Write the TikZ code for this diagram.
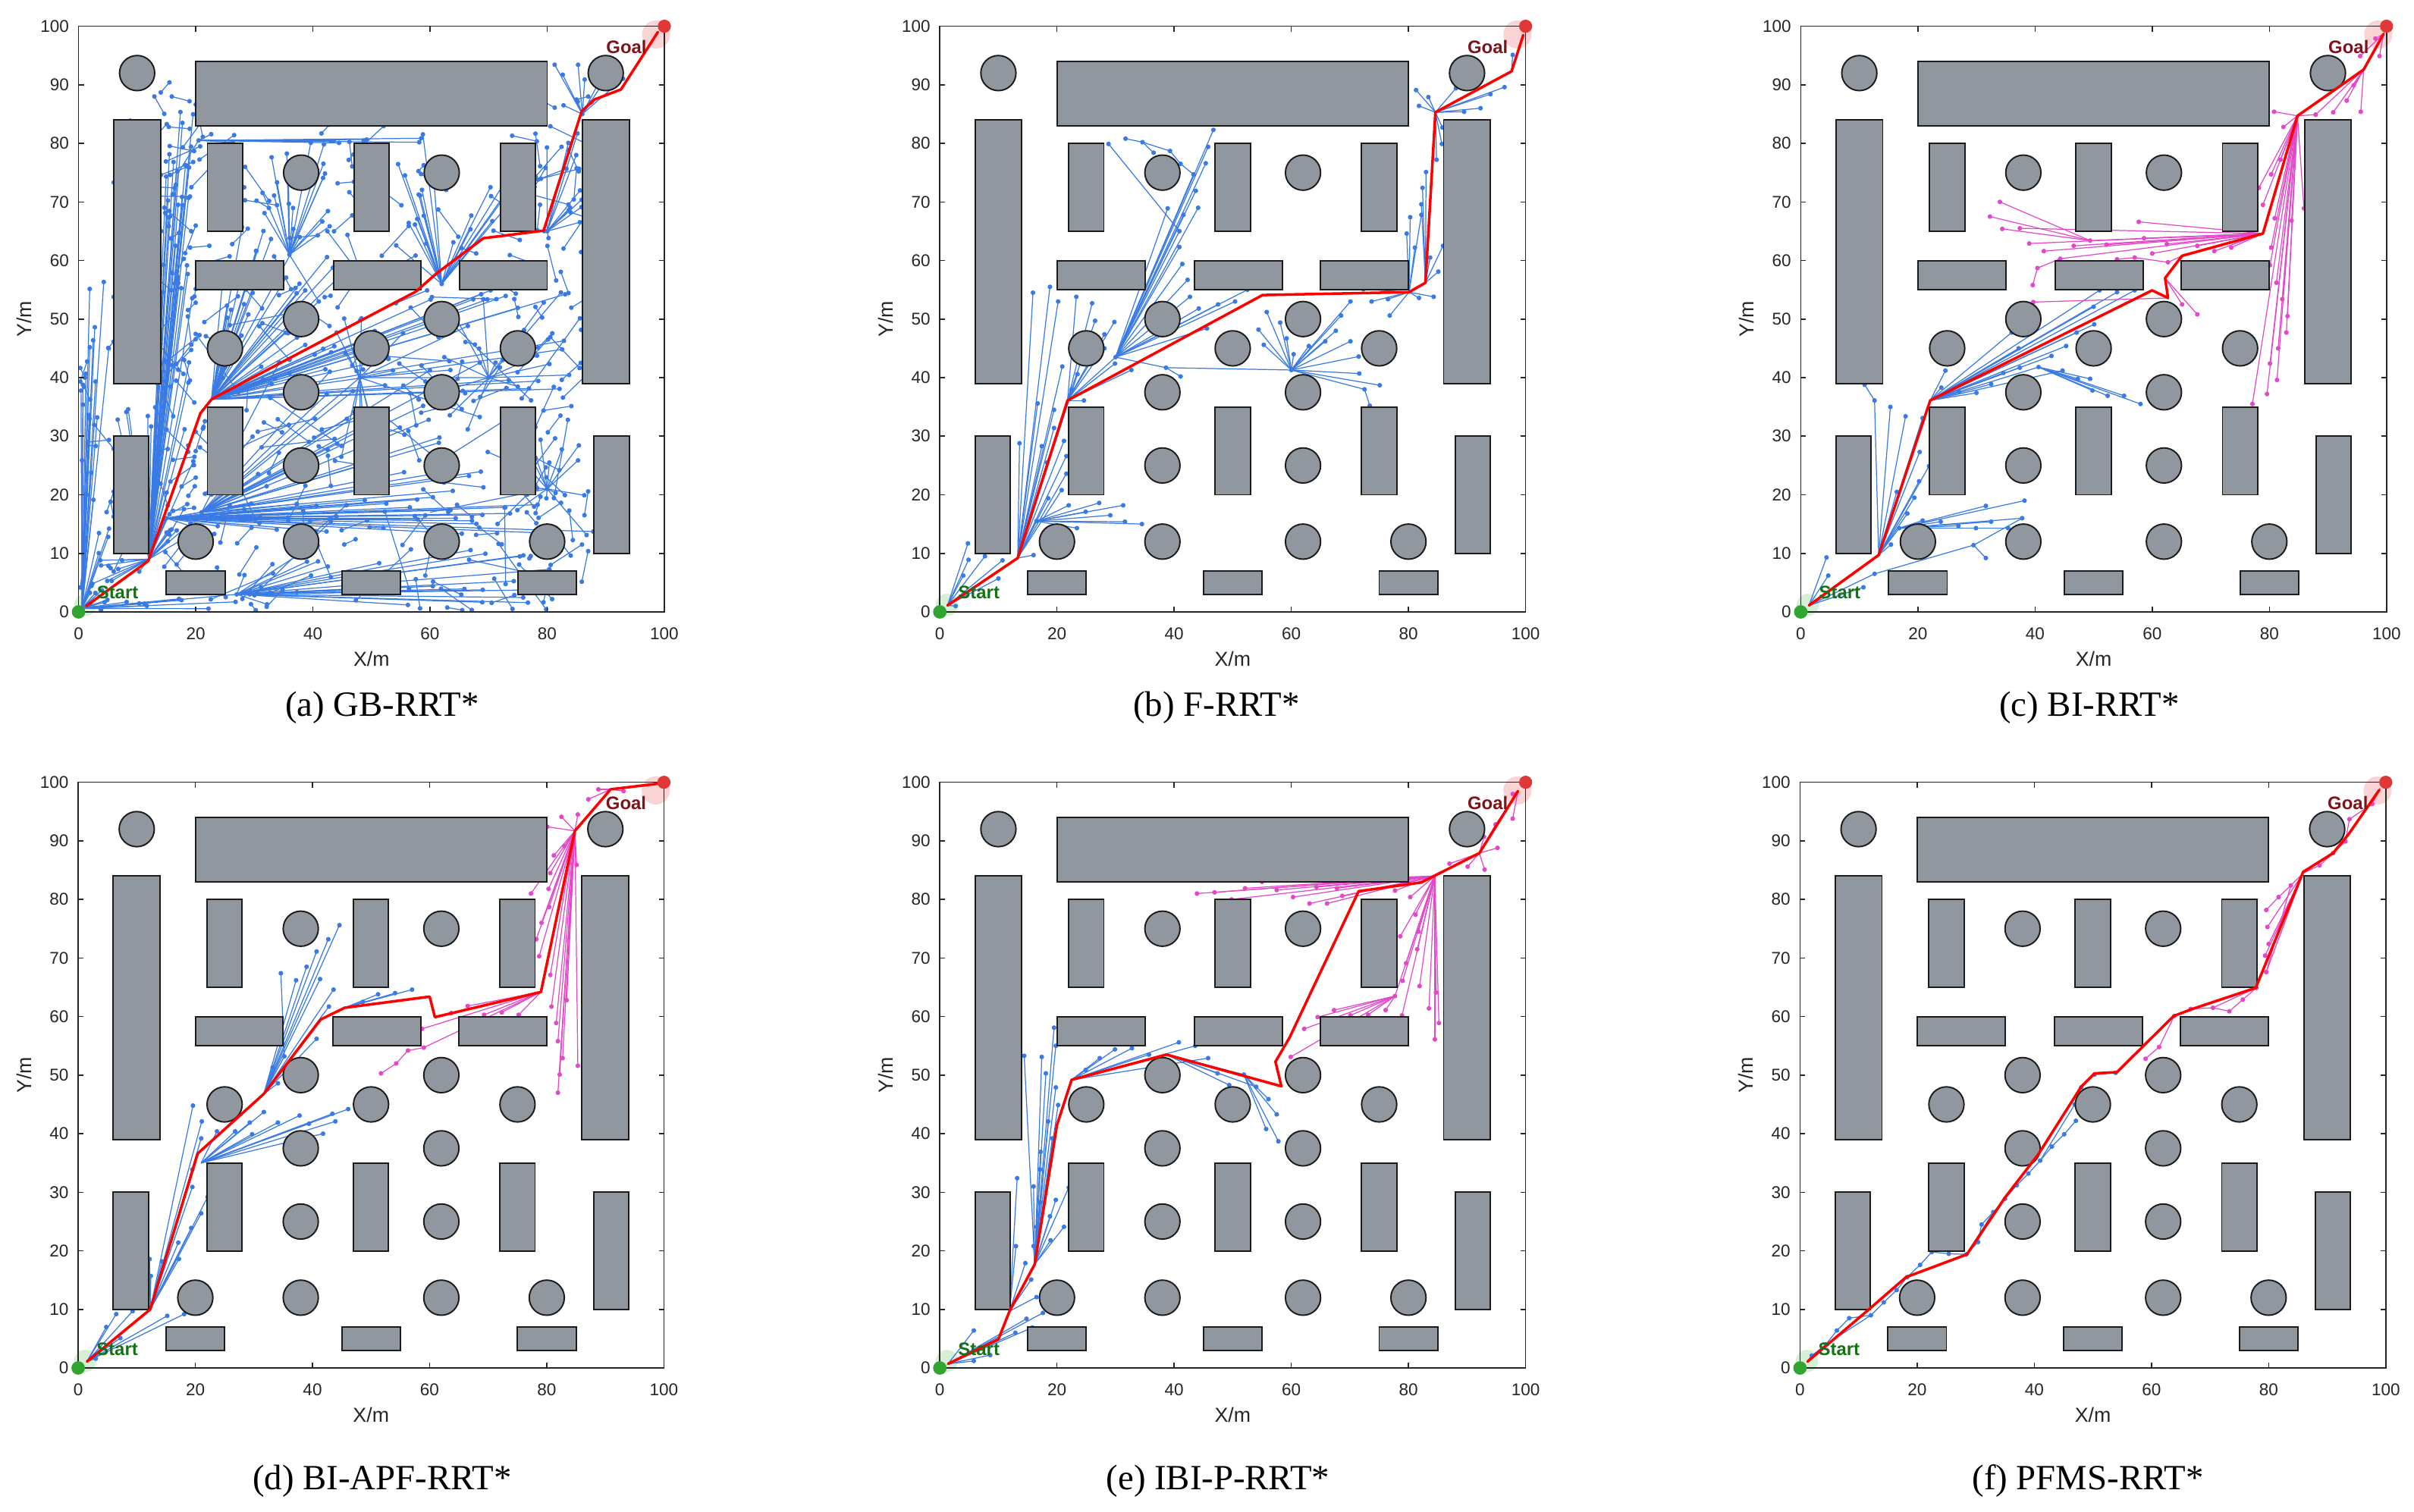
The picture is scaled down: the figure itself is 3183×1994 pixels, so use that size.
\documentclass[tikz,border=0pt]{standalone}
\usepackage{fontspec}
\setmainfont{Liberation Serif}
\newfontfamily\sansf{Liberation Sans}
\definecolor{obsfill}{RGB}{144,151,158}
\definecolor{obsedge}{RGB}{28,28,28}
\definecolor{tblue}{RGB}{58,122,228}
\definecolor{tmag}{RGB}{226,72,200}
\definecolor{axcol}{RGB}{38,38,38}
\definecolor{stdot}{RGB}{48,165,48}
\definecolor{stlab}{RGB}{22,112,22}
\definecolor{gldot}{RGB}{224,56,56}
\definecolor{gllab}{RGB}{128,18,24}
\definecolor{hgreen}{RGB}{214,240,214}
\definecolor{hred}{RGB}{250,212,212}
\tikzset{
 obs/.style={fill=obsfill, draw=obsedge, line width=0.55pt},
 bt/.style={draw=tblue, line width=0.35pt},
 mt/.style={draw=tmag, line width=0.35pt},
 rpath/.style={draw=red, line width=1.0pt, line join=round, line cap=round},
 axline/.style={draw=axcol, line width=0.45pt},
 ticklab/.style={font=\sansf\fontsize{6.4}{7}\selectfont, text=axcol, inner sep=0pt},
 axlab/.style={font=\sansf\fontsize{7.6}{9}\selectfont, text=axcol, inner sep=0pt},
 captext/.style={font=\fontsize{13.3}{16}\selectfont, inner sep=0pt},
 stlabel/.style={font=\sansf\bfseries\fontsize{6.8}{8}\selectfont, text=stlab, inner sep=0pt, anchor=base west},
 gllabel/.style={font=\sansf\bfseries\fontsize{6.8}{8}\selectfont, text=gllab, inner sep=0pt, anchor=base west},
 panel/.style={x=0.0772cm, y=0.0772cm}
}
\newcommand\dr{0.4}
\newcommand\fanB[2]{\foreach \p in {#2}{\draw[bt] #1 -- \p;}\foreach \p in {#2}{\fill[tblue] \p circle[radius=\dr];}}
\newcommand\fanM[2]{\foreach \p in {#2}{\draw[mt] #1 -- \p;}\foreach \p in {#2}{\fill[tmag] \p circle[radius=\dr];}}
\newcommand\dotsB[1]{\foreach \p in {#1}{\fill[tblue] \p circle[radius=\dr];}}
\newcommand\dotsM[1]{\foreach \p in {#1}{\fill[tmag] \p circle[radius=\dr];}}
\newcommand\rfanB[6]{\foreach \k in {1,...,#2}{\pgfmathsetmacro\rx{#3+rnd*(#4-#3)}\pgfmathsetmacro\ry{#5+rnd*(#6-#5)}\draw[bt] #1 -- (\rx,\ry); \fill[tblue] (\rx,\ry) circle[radius=\dr];}}
% random short segments: N, xmin, xmax, ymin, ymax, L
\newcommand\rsegB[6]{\foreach \k in {1,...,#1}{\pgfmathsetmacro\rx{#2+rnd*(#3-#2)}\pgfmathsetmacro\ry{#4+rnd*(#5-#4)}\pgfmathsetmacro\sx{max(#2,min(#3,\rx+(2*rnd-1)*#6))}\pgfmathsetmacro\sy{max(#4,min(#5,\ry+(2*rnd-1)*#6))}\draw[bt] (\rx,\ry) -- (\sx,\sy); \fill[tblue] (\rx,\ry) circle[radius=\dr]; \fill[tblue] (\sx,\sy) circle[radius=\dr];}}
\newcommand\drawobs{%
 \foreach \a/\b/\c/\d in {20/83/80/94, 6/39/14/84, 86/39/94/84, 22/65/28/80, 47/65/53/80, 72/65/78/80, 20/55/35/60, 43.5/55/58.5/60, 65/55/80/60, 22/20/28/35, 47/20/53/35, 72/20/78/35, 6/10/12/30, 88/10/94/30, 15/3/25/7, 45/3/55/7, 75/3/85/7}
  {\draw[obs] (\a,\b) rectangle (\c,\d);}
 \foreach \a/\b in {10/92, 90/92, 38/75, 62/75, 25/45, 38/50, 50/45, 62/50, 75/45, 38/37.5, 62/37.5, 38/25, 62/25, 20/12, 38/12, 62/12, 80/12}
  {\draw[obs] (\a,\b) circle[radius=3];}
}
\newcommand\halos{%
 \fill[hgreen] (1.2,1.2) circle[radius=1.9];
 \fill[hred] (98.6,98.6) circle[radius=2.4];
}
\newcommand\drawaxes{%
 \draw[axline] (0,0) rectangle (100,100);
 \foreach \v in {0,20,...,100}{
  \draw[axline] (\v,0) -- ++(0,0.9);
  \draw[axline] (\v,100) -- ++(0,-0.9);
  \node[ticklab, anchor=north] (xt\v) at (\v,-2.55) {\v};}
 \foreach \v in {0,10,...,100}{
  \draw[axline] (0,\v) -- ++(0.9,0);
  \draw[axline] (100,\v) -- ++(-0.9,0);
  \node[ticklab, anchor=east] (yt\v) at (-1.55,\v) {\v};}
 \node[axlab] (xl) at (50,-7.97) {X/m};
 \node[axlab, rotate=90] (yl) at (-9.26,50) {Y/m};
}
\newcommand\markers{%
 \fill[stdot] (0,0) circle[radius=1.15];
 \fill[gldot] (100,100) circle[radius=1.12];
 \node[stlabel] (stl) at (3.05,2.2) {Start};
 \node[gllabel] (gll) at (90,95.4) {Goal};
}
\begin{document}
\begin{tikzpicture}[x=0.01cm,y=-0.01cm]
\fill[white] (0,0) rectangle (3183,1994);
\useasboundingbox (0,0) rectangle (3183,1994);
\pgfmathsetseed{4242}
% ---------------- (a) GB-RRT*
\begin{scope}[shift={(1.035cm,-8.065cm)},panel]
\halos
\rfanB{(0.6,0.6)}{26}{0.3}{5.7}{3}{57}
\rfanB{(0.6,0.6)}{10}{3}{28}{0.3}{2.5}
\rfanB{(12,9)}{44}{14.4}{19.6}{12}{91}
\rfanB{(12,9)}{7}{6.5}{13.5}{31}{38}
\rfanB{(12,9)}{8}{2}{11}{2}{9.5}
\rfanB{(22.7,36.3)}{34}{24}{45}{38}{66}
\rfanB{(22.7,36.3)}{22}{40}{86}{38}{55}
\rfanB{(36,61)}{18}{29}{43}{63}{81}
\rfanB{(15,16)}{30}{20}{88}{13}{20}
\rfanB{(27,3)}{24}{28}{82}{0.5}{11}
\rfanB{(21,17)}{22}{28}{70}{20}{45}
\rfanB{(62,56)}{22}{54}{75}{62}{82}
\rfanB{(80,21)}{14}{74}{88}{13}{34}
\rfanB{(80,65)}{12}{79}{86}{62}{82}
\rfanB{(86,85)}{10}{80}{93}{85}{94}
\rfanB{(48,40)}{16}{40}{70}{25}{52}
\rfanB{(20.5,80.5)}{8}{20}{60}{80}{82.5}
\rfanB{(70,40)}{14}{60}{86}{30}{55}
\rsegB{150}{6}{87}{0.3}{88}{6}
\rsegB{40}{20}{87}{0.3}{56}{14}
\rsegB{30}{14}{20}{10}{91}{5}
\rsegB{25}{78}{87}{0.3}{88}{7}
\rsegB{12}{0.3}{6}{0.3}{56}{6}
\draw[bt] (12,9) -- (15,16) -- (21,17) -- (48,40) -- (70,40);
\draw[bt] (0.6,0.6) -- (27,3);
\draw[bt] (36,61) -- (41,53) -- (22.7,36.3);
\draw[bt] (80,21) -- (60,17);
\draw[bt] (20.5,80.5) -- (17,75);
\dotsB{(15,16),(21,17),(48,40),(70,40),(27,3),(36,61),(41,53),(80,21),(62,56),(80,65),(86,85),(20.5,80.5)}
\drawobs
\draw[rpath] (1.3,1) -- (11.9,8.7) -- (20.8,33.9) -- (22.7,36.3) -- (57.6,54.7) -- (61,57.7) -- (69.1,63.8) -- (79.4,65.1) -- (85.9,85.5) -- (88.1,87.5) -- (92.6,89.2) -- (98.9,99);
\drawaxes
\markers
\end{scope}
\node[captext] (capa) at (504,933) {(a) GB-RRT*};
% ---------------- (b) F-RRT*
\begin{scope}[shift={(12.385cm,-8.065cm)},panel]
\halos
\fanB{(1.3,1.1)}{(2.7,1),(4,6.2),(4.8,11.7),(4.9,8.9),(7.7,9.5),(10,5.7),(10.7,8.8)}
\fanB{(13.3,9.2)}{(13.6,28.8),(15.9,54.5),(18.8,55.5),(20.2,53),(16.7,35.6),(17.4,28.3),(18.3,25.5),(18.5,19.4),(19.5,31.4),(19.5,34.5),(20.9,41.9),(21.6,26.6),(21.6,23.6),(20.8,20.8),(21.2,29.2),(16,9.7),(16.5,15.5),(22.5,38),(23.5,40.6)}
\fanB{(16.5,15.5)}{(22,18.2),(24.9,17.1),(27.2,18.6),(29.1,16.5),(31.3,18.2),(31.6,15.4),(34.5,15),(23.4,14.3)}
\fanB{(21.8,36.1)}{(23.3,53.8),(26,52.7),(26.5,49.7),(28.1,47.4),(29.8,49.5),(29.9,42.4),(28.1,45),(32.7,41.3),(24.6,36.1),(30,43.5)}
\fanB{(30,43.5)}{(38.9,68.9),(40.9,65),(40.9,62.3),(41.4,59.4),(42.3,56.7),(42.7,53.8),(43.7,71.9),(44.1,69),(43.3,74.7),(45.4,76.6),(45.8,79.4),(46.7,82.3),(41.6,67.8),(45.6,48.4),(47.5,52.5),(50.4,53),(52.5,55),(44.2,51.8),(38.6,41.7)}
\draw[bt] (28.8,79.9) -- (40.9,65);
\draw[bt] (31.7,80.8) -- (34.6,80.2) -- (39.3,78.7) -- (41.1,76.5) -- (43.3,74.7);
\draw[bt] (36.5,78.4) -- (34.6,80.2);
\dotsB{(28.8,79.9),(31.7,80.8),(34.6,80.2),(39.3,78.7),(41.1,76.5),(36.5,78.4)}
\draw[bt] (38.6,41.7) -- (60,41.3);
\draw[bt] (41.1,40.2) -- (38.6,41.7);
\dotsB{(41.1,40.2),(60,41.3)}
\fanB{(60,41.3)}{(54.4,48.2),(55.3,45.6),(55.8,51.2),(58.1,49.4),(59.2,46.7),(60.4,44),(63,45.4),(65.8,46.2),(67.6,48),(68.5,50.6),(70.1,53),(70.1,46.2),(71.5,43.6),(71.6,40.7),(75.1,38.7),(72.5,38)}
\draw[bt] (72.5,38) -- (73.4,35.2);
\dotsB{(73.4,35.2)}
\fanB{(80.1,54.6)}{(73.7,53),(76.8,50.6),(76.5,53.4),(72.3,55.1),(81.8,53.6),(84.3,53.8),(79.7,64.6),(80.3,67.4),(81.1,62.2),(82.2,67.8)}
\fanB{(82.9,56.2)}{(85.9,62.5),(85.1,58.1),(83.7,60.5),(82.4,72.4),(82.2,69.6),(83,75.1)}
\fanB{(84.6,85.3)}{(81.3,89.1),(81.8,86.4),(83.4,87.9),(84.8,77.2),(85.7,79.9),(85.8,82.7),(88.1,89.4),(89.5,85.4),(92.3,86),(94,88.4),(96.4,89.6)}
\draw[bt] (97.6,92.3) -- (97.8,95.1);
\dotsB{(97.8,95.1)}
\drawobs
\draw[rpath] (1.3,1.1) -- (13.3,9.2) -- (21.8,36.1) -- (55.1,54.1) -- (80.1,54.6) -- (82.9,56.2) -- (84.6,85.3) -- (97.6,92.3) -- (99.6,98.5);
\drawaxes
\markers
\end{scope}
\node[captext] (capb) at (1604,933) {(b) F-RRT*};
% ---------------- (c) BI-RRT*
\begin{scope}[shift={(23.73cm,-8.065cm)},panel]
\halos
\fanB{(1.4,1.1)}{(4.4,9.3),(4.7,6.2),(10.7,4.2),(12.6,6.5)}
\fanB{(13.3,9.7)}{(12.6,36.1),(15.3,35),(17.9,33.4),(20.8,33.1),(20.3,27.3),(21.9,24.9),(20.2,22.3),(19.4,19.5),(18.2,16.8),(15.4,11.5),(16.4,20.5),(16.8,14.3)}
\draw[bt] (12.6,36.1) -- (10.9,38.8);
\dotsB{(10.9,38.8)}
\fanB{(16.8,14.3)}{(20.8,15.6),(23.9,15.4),(26.9,14.7),(29.9,14.3),(31.6,18.1),(32.5,15.4),(35.4,14.3),(37.8,16),(38.2,19)}
\draw[bt] (12.6,6.5) -- (29.5,11.4) -- (31.6,9.2);
\draw[bt] (29.5,11.4) -- (37.8,16);
\dotsB{(29.5,11.4),(31.6,9.2)}
\fanB{(22.1,36.1)}{(24,38.3),(24.7,41.2),(27,37.6),(30,37.4),(32.5,38.9),(34.6,40.8),(37.4,41.7),(36,47.7),(37.2,45),(40.6,41.8),(42.8,43.7),(44.7,41.2),(45.3,45.4),(47.1,47.7),(50.1,49.1),(50,52.1),(51,54.9),(54,54.6),(57,54.9)}
\fanB{(40.6,41.8)}{(47.3,39.8),(49.8,37.8),(49.4,39.8),(52.4,36.9),(55.2,36.9),(58,35.5)}
\fanM{(78.9,64.6)}{(49.4,63.4),(52.2,62.7),(57.7,66.6),(58.6,63.8),(60,61.2),(62.5,62.8),(67.7,62.5),(70.6,61.6),(73.5,62.2),(46.6,62.5),(44.3,60.3),(41.5,61.6),(39,62.9),(37.4,65.5)}
\fanM{(49.4,63.4)}{(34,70),(32.3,67.5),(34.4,65.4)}
\draw[mt] (44.3,60.3) -- (40.4,58.7) -- (39.6,55.8);
\draw[mt] (39.7,52.9) -- (62.7,53.6);
\draw[mt] (54,60.2) -- (57,60.5) -- (62.7,59.7) -- (65.1,60.8);
\draw[mt] (62.2,57) -- (65.1,52.5);
\draw[mt] (62.2,57) -- (67.7,50.8);
\dotsM{(40.4,58.7),(39.6,55.8),(39.7,52.9),(54,60.2),(57,60.5),(62.7,59.7),(65.1,52.5),(67.7,50.8)}
\fanM{(84.8,84.7)}{(78.2,72.4),(78.9,69.5),(80.3,74.7),(81.9,77.2),(82.4,82.8),(80.9,67.2),(80.3,62.2),(80.1,59.2),(81.2,56.2),(82.2,53.4),(83.1,50.5),(82.9,47.7),(81.5,45),(80.1,42.4),(81.3,39.6),(79.6,37.2),(77.1,35.5),(83.8,66.8),(85.9,68.9),(80.8,85.4),(87.9,84.9)}
\fanM{(96.1,92.6)}{(90.9,85.3),(93.2,87.3),(94.4,89.9),(95.6,85.4),(87.9,84.9)}
\fanM{(99.5,98.7)}{(95.5,94.9),(98.8,94.9),(98.1,97.9)}
\drawobs
\draw[rpath] (1.4,1.1) -- (13.3,9.7) -- (22.1,36.1) -- (60,54.9) -- (62.7,53.6) -- (62.2,57) -- (65.1,60.8) -- (78.9,64.6) -- (84.8,84.7) -- (96.1,92.6) -- (99.5,98.7);
\drawaxes
\markers
\end{scope}
\node[captext] (capc) at (2755,933) {(c) BI-RRT*};
% ---------------- (d) BI-APF-RRT*
\begin{scope}[shift={(1.03cm,-18.03cm)},panel]
\halos
\fanB{(1.5,1.1)}{(4.8,7),(6.5,9.2),(9.3,9.7),(7.2,5.1),(15.2,8.9),(18.1,9.2),(3,1.6)}
\fanB{(12.3,10)}{(12.4,15.7),(12.2,18.6),(14.3,18.2),(17.2,18.6),(17.1,21.4),(19.3,23.9),(21,26.4),(22.1,29.2),(19.5,30.9),(19.5,33.9),(19.6,44.8),(21.1,42.1),(21,39.2)}
\fanB{(21,35)}{(23.7,40.4),(26.8,40.4),(29.3,41.9),(31.7,43.7),(29.7,39.9),(34.1,41.9),(37.8,43.1),(39.4,41.7),(41.8,40),(43.4,43.4),(43.9,42.1),(46.1,44.2)}
\fanB{(31.7,46.8)}{(33.2,51.3),(34.1,48.6),(35.2,53.2),(37.2,66.2),(39,68.5),(40.7,71.1),(42.7,73.2),(44.6,75.6),(41.3,66.4),(43.6,64.6),(42.8,61.7),(40.7,56.2)}
\draw[bt] (35.2,53.2) -- (34.6,67.4);
\dotsB{(34.6,67.4)}
\fanB{(45.5,61.5)}{(48.6,62.5),(51.2,63.8),(54.1,64),(57,64.6)}
\fanM{(79,64.2)}{(75.2,60.3),(72.3,60.7),(69.3,60.3),(66.5,61.8),(63.7,60.6),(59,54.7),(58.7,57.9)}
\draw[mt] (59,54.7) -- (56.3,54.2) -- (54.3,52) -- (51.7,50.3);
\dotsM{(56.3,54.2),(54.3,52),(51.7,50.3)}
\fanM{(84.8,91.7)}{(80.8,61.7),(81.6,58.9),(81.9,55.8),(82.7,52.9),(82.2,50.1),(81.9,47),(83.4,62.8),(85.3,51.6),(80.6,67.1),(78.7,70.3),(78.2,73.2),(79.1,76),(80.4,78.7),(80.3,81.8),(77.3,81),(80.6,84.5),(81.2,87.5),(80.1,92.4),(82.5,94.1),(85.3,94.5),(85.1,85.9),(83,89.1)}
\fanM{(90.9,98.8)}{(87.1,97.1),(88.8,98.8),(93.1,98.5)}
\drawobs
\draw[rpath] (1.5,1.1) -- (12.3,10) -- (20.4,36.6) -- (31.7,46.8) -- (41.4,59.5) -- (45.5,61.5) -- (60,63.4) -- (60.9,59.9) -- (79,64.2) -- (84.8,91.7) -- (90.9,98.8) -- (99.3,99.8);
\drawaxes
\markers
\end{scope}
\node[captext] (capd) at (504,1953) {(d) BI-APF-RRT*};
% ---------------- (e) IBI-P-RRT*
\begin{scope}[shift={(12.385cm,-18.03cm)},panel]
\halos
\fanB{(1.4,0.7)}{(5.8,6.4),(5.8,1.2),(8.6,2.2),(12.9,6),(14.8,8.4),(15.8,6.9),(17.6,9.4)}
\fanB{(11.9,9.7)}{(16.5,12.1),(15.6,15.1),(13,20.8),(13.2,32.4),(14.6,17.9)}
\fanB{(16.2,17.7)}{(14.4,53.3),(17.4,53.1),(18.1,50.3),(19.5,58.1),(19.8,55),(19.8,47.9),(20.2,44.9),(18.5,42.1),(19.2,39.2),(17.2,36.9),(17.1,33.9),(16,31),(17.1,28.3),(19.8,28.7),(18.8,25.9),(18.9,21.8),(21.2,24.1),(22,30.8),(16.5,24.1),(16,20.8)}
\fanB{(22.5,49.2)}{(24.9,50.9),(27.3,52.9),(29.9,54.4),(32.8,54.6),(35.7,53.5),(40.8,55.6),(43.6,55),(45.8,52.9)}
\fanB{(38.7,53.5)}{(47.4,50.3),(49.4,48.3),(51.9,50.1),(54,48)}
\fanB{(51.9,50.1)}{(56.1,45.9),(57.5,43.3),(55.7,40.8),(57.8,38.7)}
\fanM{(84.5,84)}{(78.6,73.7),(81.2,77.4),(81.7,74.5),(81.5,71.5),(79.6,69.1),(79,66.1),(81.9,65.2),(83.5,61.4),(84.7,64.1),(84.5,56.1),(85.2,58.9),(80.3,80.4),(77.7,63.5),(78.9,60.2),(43.9,81),(46.9,81.2),(49.8,80),(52.1,81.9),(55,83),(57.5,81.6),(60.3,80.4),(63.1,79.3),(64.3,82.1),(66.1,79.3),(67.8,81.9),(68.7,80.6),(77.7,81.5)}
\fanM{(77.7,63.5)}{(76.1,61.1),(73.1,60.3),(70.1,60.2),(67.3,61.1),(64.5,59.9),(62.2,57.9),(59.9,53.1)}
\fanM{(92.1,87.9)}{(87,86.1),(90.1,85.6),(93,85.1),(92.9,90.7),(94.9,92.8),(95.2,88.8)}
\fanM{(98.7,98.5)}{(97.8,93.8),(97.8,98),(94.9,92.8)}
\drawobs
\draw[rpath] (1.4,0.7) -- (10,4.9) -- (11.9,9.7) -- (16.2,17.7) -- (20,41.5) -- (22.5,49.2) -- (38.7,53.5) -- (58.3,48.1) -- (57.3,52.3) -- (59.7,56.4) -- (71.5,81.4) -- (82.2,82.9) -- (92.1,87.9) -- (98.7,98.5);
\drawaxes
\markers
\end{scope}
\node[captext] (cape) at (1606,1953) {(e) IBI-P-RRT*};
% ---------------- (f) PFMS-RRT*
\begin{scope}[shift={(23.72cm,-18.03cm)},panel]
\halos
\draw[bt] (1.3,1.1) -- (2,2.1) -- (4.4,4) -- (6.3,6.4) -- (8.4,8.5) -- (12.1,9) -- (14.3,11.2) -- (16.5,13.3) -- (18.3,15.5) -- (20.5,17.6) -- (22.5,19.8) -- (25.4,19.5) -- (28.4,19.4) -- (30.4,21.5) -- (31,24.5) -- (33,26.6) -- (35,28.9) -- (37,31.2) -- (39,33.2) -- (41,35.4) -- (43,37.8) -- (45.1,39.9) -- (47.1,42.2);
\draw[bt] (4.4,4) -- (12.1,9);
\draw[bt] (28.4,19.4) -- (33,26.6);
\draw[bt] (41,35.4) -- (46.9,45) -- (48,47.9) -- (50.3,50.1) -- (53.9,50.4);
\dotsB{(2,2.1),(4.4,4),(6.3,6.4),(8.4,8.5),(12.1,9),(14.3,11.2),(16.5,13.3),(18.3,15.5),(20.5,17.6),(22.5,19.8),(25.4,19.5),(28.4,19.4),(30.4,21.5),(31,24.5),(33,26.6),(35,28.9),(37,31.2),(39,33.2),(41,35.4),(43,37.8),(45.1,39.9),(47.1,42.2),(46.9,45),(48,47.9),(50.3,50.1),(53.9,50.4)}
\draw[mt] (59,52.8) -- (61.3,54.8) -- (63.9,60.1) -- (66.7,61.3) -- (70.5,61.5) -- (77.9,64.9);
\draw[mt] (70.5,61.5) -- (73.3,60.9) -- (75.6,62.9) -- (77.9,64.9);
\fanM{(85.9,84.5)}{(79.6,67.6),(79.4,70.4),(80,72.4),(79.8,75.3),(77.9,64.9)}
\draw[mt] (79.6,78.2) -- (81.7,80.4) -- (83.8,82.4) -- (85.9,84.5) -- (88.7,85.8) -- (91,87.9) -- (93.1,89.9) -- (93.8,93.7) -- (97.7,96.3) -- (99,99);
\draw[mt] (79.6,67.6) -- (83.8,82.4);
\dotsM{(59,52.8),(61.3,54.8),(63.9,60.1),(66.7,61.3),(70.5,61.5),(73.3,60.9),(75.6,62.9),(79.6,78.2),(81.7,80.4),(83.8,82.4),(88.7,85.8),(91,87.9),(93.1,89.9),(93.8,93.7),(97.7,96.3)}
\drawobs
\draw[rpath] (1.3,1.1) -- (12,10.2) -- (18.1,15.5) -- (28.5,19.4) -- (35,29.1) -- (40.7,36.5) -- (48,48) -- (50.3,50.3) -- (54.1,50.5) -- (63.8,60.1) -- (67,61.3) -- (77.8,64.9) -- (85.9,84.7) -- (91,87.9) -- (93.7,91.2) -- (98.9,98.7);
\drawaxes
\markers
\end{scope}
\node[captext] (capf) at (2753,1953) {(f) PFMS-RRT*};
\end{tikzpicture}
\end{document}
